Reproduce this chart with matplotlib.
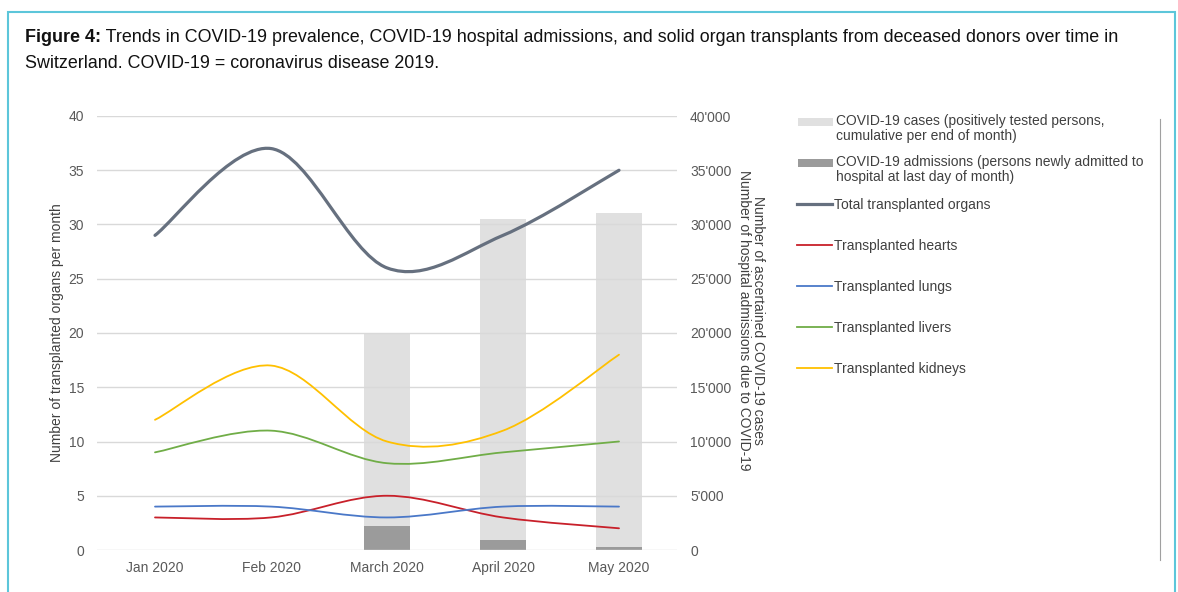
import numpy as np
import matplotlib
matplotlib.use("Agg")
import matplotlib.pyplot as plt
from matplotlib.path import Path
from matplotlib.patches import PathPatch, Rectangle
from matplotlib.lines import Line2D
from matplotlib.ticker import FuncFormatter

plt.rcParams['font.family'] = ['Liberation Sans', 'DejaVu Sans']

# data
months = ["Jan 2020", "Feb 2020", "March 2020", "April 2020", "May 2020"]
covid_cases = [0, 0, 20000, 30500, 31100]
covid_admissions = [0, 0, 2200, 950, 300]
total_organs = [29, 37, 26, 29, 35]
hearts = [3, 3, 5, 3, 2]
lungs = [4, 4, 3, 4, 4]
livers = [9, 11, 8, 9, 10]
kidneys = [12, 17, 10, 11, 18]

W, H = 1178, 592
fig = plt.figure(figsize=(W / 100, H / 100), dpi=100)

tick_col = "#595959"
text_col = "#404040"
case_col = "#e0e0e0"
adm_col = "#9b9b9b"

# outer frame of the figure box
fig.patches.append(Rectangle((8 / W, -0.05), 1167 / W, 1.05 - 12 / H, transform=fig.transFigure,
                             fill=False, edgecolor="#5cc6da", linewidth=1.5))
fig.lines.append(Line2D([1160 / W, 1160 / W], [1 - 560 / H, 1 - 119 / H], transform=fig.transFigure,
                        color="#a0a0a0", linewidth=0.8))

# caption
t1 = fig.text(25 / W, 1 - 38 / H, "Figure 4:", fontsize=12.9, fontweight="bold", color="#111111", va="center")
fig.canvas.draw()
bb = t1.get_window_extent()
fig.text(bb.x1 / W, 1 - 38 / H,
         " Trends in COVID-19 prevalence, COVID-19 hospital admissions, and solid organ transplants from deceased donors over time in",
         fontsize=12.9, color="#111111", va="center")
fig.text(25 / W, 1 - 63 / H, "Switzerland. COVID-19 = coronavirus disease 2019.",
         fontsize=12.9, color="#111111", va="center")

ax = fig.add_axes([97 / W, 42 / H, 580 / W, 434 / H])
ax2 = ax.twinx()
ax.set_zorder(ax2.get_zorder() + 1)
ax.patch.set_visible(False)

x = np.arange(len(months))
ax2.bar(x, covid_cases, width=0.4, color=case_col, zorder=1)
ax2.bar(x, covid_admissions, width=0.4, color=adm_col, zorder=2)


def smooth_path(xs, ys):
    # Excel style smoothed line as cubic bezier segments
    pts = np.column_stack([xs, ys]).astype(float)
    n = len(pts)
    verts = [pts[0]]
    codes = [Path.MOVETO]
    for i in range(n - 1):
        p0 = pts[max(i - 1, 0)]
        p1 = pts[i]
        p2 = pts[i + 1]
        p3 = pts[min(i + 2, n - 1)]
        verts += [p1 + (p2 - p0) / 6, p2 - (p3 - p1) / 6, p2]
        codes += [Path.CURVE4] * 3
    return Path(verts, codes)


series = [
    (total_organs, "#66707f", 2.3, "Total transplanted organs"),
    (hearts, "#c8202a", 1.3, "Transplanted hearts"),
    (lungs, "#4a78c8", 1.3, "Transplanted lungs"),
    (livers, "#70ad47", 1.3, "Transplanted livers"),
    (kidneys, "#ffc000", 1.3, "Transplanted kidneys"),
]
line_handles = []
for ys, col, lw, lab in series:
    ax.add_patch(PathPatch(smooth_path(x, ys), facecolor="none", edgecolor=col, linewidth=lw,
                           capstyle="round", zorder=3))
    line_handles.append(Line2D([], [], color=col, linewidth=lw, label=lab))

ax.set_xlim(-0.5, 4.5)
ax.set_ylim(0, 40)
ax2.set_ylim(0, 40000)
ax.set_yticks(range(0, 41, 5))
ax2.set_yticks(range(0, 40001, 5000))
ax2.yaxis.set_major_formatter(FuncFormatter(lambda v, p: f"{v:,.0f}".replace(",", "'")))
ax.set_xticks(x)
ax.set_xticklabels(months)
ax.grid(axis="y", color="#d9d9d9", linewidth=1)
ax.set_axisbelow(True)

for a in (ax, ax2):
    for s in a.spines.values():
        s.set_visible(False)
    a.tick_params(length=0, labelsize=10, labelcolor=tick_col)
ax.tick_params(axis="y", pad=9.4)
ax2.tick_params(axis="y", pad=9.4)
ax.tick_params(axis="x", pad=7.8)

ax.set_ylabel("Number of transplanted organs per month", fontsize=10, color=text_col)
ax.yaxis.set_label_coords(-0.057, 0.5)
ax2.set_ylabel("Number of ascertained COVID-19 cases\nNumber of hospital admissions due to COVID-19",
               fontsize=10, color=text_col, rotation=270, va="center", ha="center", linespacing=1.0)
ax2.yaxis.set_label_coords(1.128, 0.53)

# legend for the bars, swatch level with the first text line
bar_entries = [(case_col, 122, "COVID-19 cases (positively tested persons,\ncumulative per end of month)"),
               (adm_col, 163, "COVID-19 admissions (persons newly admitted to\nhospital at last day of month)")]
for col, yc, lab in bar_entries:
    fig.patches.append(Rectangle((798 / W, 1 - (yc + 4) / H), 35 / W, 8 / H,
                                 transform=fig.transFigure, facecolor=col, edgecolor="none"))
    fig.text(836 / W, 1 - (yc - 8) / H, lab, fontsize=10, color=text_col, va="top", linespacing=1.05)

fig.legend(handles=line_handles, loc="upper left", bbox_to_anchor=(797 / W, 1 - 198 / H),
           frameon=False, fontsize=10, labelcolor=text_col, handlelength=2.5,
           handletextpad=0.2, borderpad=0, borderaxespad=0, labelspacing=1.95)

fig.savefig("out.png", dpi=100)
